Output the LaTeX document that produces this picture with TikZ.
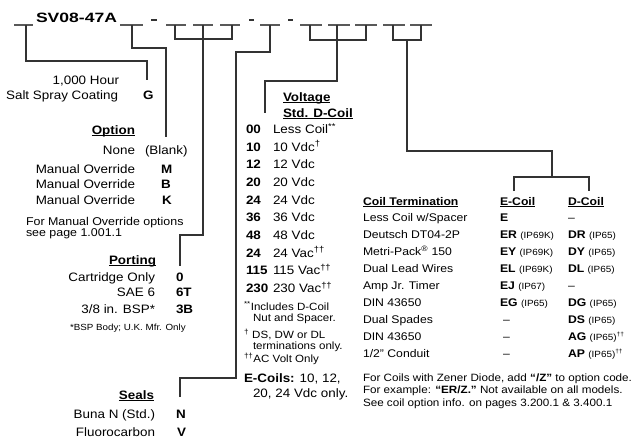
\documentclass[tikz,border=0pt]{standalone}
\usepackage{fontspec}
\setmainfont{Liberation Sans}[FakeStretch=1.1]
\newfontfamily\ttlfont{Liberation Sans}[FakeStretch=1.3]
\newcommand\fL{\fontsize{12.2}{13}\selectfont}
\newcommand\fR{\fontsize{11.1}{12}\selectfont}
\newcommand\fN{\fontsize{10.5}{11}\selectfont}
\newcommand\fS{\fontsize{8.9}{10}\selectfont}
\newcommand\fF{\fontsize{10.6}{11}\selectfont}
\newcommand\fM{\fontsize{11.3}{12}\selectfont}
\newcommand\fIP{\fontsize{9}{10}\selectfont}
\newcommand\myul[1]{\setbox0\hbox{#1}\rlap{\rule[-1.8pt]{\wd0}{0.8pt}}\box0}
\newcommand\ip[1]{{\fIP #1}}
\begin{document}
\begin{tikzpicture}[x=1pt,y=-1pt,
 every node/.style={inner sep=0pt,outer sep=0pt,text=black},
 le/.style={anchor=base east,font=\fL},
 lw/.style={anchor=base west,font=\fL},
 lb/.style={anchor=base west,font=\fL\bfseries},
 rw/.style={anchor=base west,font=\fR},
 nw/.style={anchor=base west,font=\fN},
 bline/.style={draw=black!80,line width=1.2pt},
 uline/.style={draw=black!65,line width=1.2pt},
 dashmark/.style={draw=black!80,line width=1.8pt}]
\fill[white] (0,0) rectangle (637,444);
\useasboundingbox (0,0) rectangle (637,444);

% ---------- title line ----------
\node[anchor=base west,font=\ttlfont\fontsize{13.5}{15}\selectfont\bfseries] (title) at (36,22.5) {SV08-47A};
\foreach \a/\b in {14/33,120/143,166/186,193/213,220/240,260/280,300/322,328/350,355/377,383/405,410/432}
  \draw[uline] (\a,25) -- (\b,25);
\foreach \a/\b in {151/157,249/254,288/293}
  \draw[dashmark] (\a,20) -- (\b,20);

% ---------- left column ----------
\node[le] (hour) at (119,84.4) {1,000 Hour};
\node[le] (salt) at (118,99.4) {Salt Spray Coating};
\node[lb] (G) at (143,99.4) {G};

\node[le] (optH) at (135,134.4) {\myul{\textbf{Option}}};
\node[le] (none) at (135,154.4) {None};
\node[lw] (blank) at (145,154.4) {(Blank)};
\node[le] (mo1) at (135,173.4) {Manual Override};
\node[lb] (M) at (161,173.4) {M};
\node[le] (mo2) at (135,188.9) {Manual Override};
\node[lb] (B) at (161,188.9) {B};
\node[le] (mo3) at (135,204.4) {Manual Override};
\node[lb] (K) at (162,204.4) {K};
\node[anchor=base west,font=\fM] (fm1) at (26,225) {For Manual Override options};
\node[anchor=base west,font=\fM] (fm2) at (26,236.5) {see page 1.001.1};

\node[le] (portH) at (156,264.4) {\myul{\textbf{Porting}}};
\node[le] (cart) at (155,281.4) {Cartridge Only};
\node[lb] (p0) at (176,281.4) {0};
\node[le] (sae) at (155,296.9) {SAE 6};
\node[lb] (p6T) at (176,296.9) {6T};
\node[le] (bsp) at (155,313.4) {3/8 in. BSP*};
\node[lb] (p3B) at (176,313.4) {3B};
\node[anchor=base west,font=\fS] (bspn) at (70,330.2) {*BSP Body; U.K. Mfr. Only};

\node[le] (sealH) at (154,399.4) {\myul{\textbf{Seals}}};
\node[le] (buna) at (155,418.4) {Buna N (Std.)};
\node[lb] (sN) at (176,418.4) {N};
\node[le] (fluo) at (155,436.4) {Fluorocarbon};
\node[lb] (sV) at (177,436.4) {V};

% ---------- voltage column ----------
\node[lw] (voltH) at (283,101.4) {\myul{\textbf{Voltage}}};
\node[lw] (stdH) at (283,117.4) {\myul{\textbf{Std. D-Coil}}};
\foreach \c/\d [count=\i from 0] in {00/{Less Coil\textsuperscript{**}},10/{10 Vdc\textsuperscript{†}},12/{12 Vdc},20/{20 Vdc},24/{24 Vdc},36/{36 Vdc},48/{48 Vdc},24/{24 Vac\textsuperscript{††}},115/{115 Vac\textsuperscript{††}},230/{230 Vac\textsuperscript{††}}}{
  \node[lb] (vc\i) at (246,{133.4+17.67*\i}) {\c};
  \node[lw] (vd\i) at (273,{133.4+17.67*\i}) {\d};
}
\node[nw] (n1) at (244,310.8) {\textsuperscript{**}Includes D-Coil};
\node[nw] (n2) at (253,321.3) {Nut and Spacer.};
\node[nw] (n3) at (244,338.8) {\textsuperscript{†} DS, DW or DL};
\node[nw] (n4) at (253,349.8) {terminations only.};
\node[nw] (n5) at (244,362.8) {\textsuperscript{††}AC Volt Only};
\node[lw] (n6) at (244,382.4) {\textbf{E-Coils:} 10, 12,};
\node[lw] (n7) at (253,397.4) {20, 24 Vdc only.};

% ---------- coil termination table ----------
\node[rw] (ctH) at (363,205) {\myul{\textbf{Coil Termination}}};
\node[rw] (ecH) at (500,205) {\myul{\textbf{E-Coil}}};
\node[rw] (dcH) at (568,205) {\myul{\textbf{D-Coil}}};

\node[rw] (c1) at (363,221.9) {Less Coil w/Spacer};
\node[rw] (e1) at (500,221.9) {\textbf{E}};
\node[rw] (d1) at (568,221.9) {–};
\node[rw] (c2) at (363,238.8) {Deutsch DT04-2P};
\node[rw] (e2) at (500,238.8) {\textbf{ER} \ip{(IP69K)}};
\node[rw] (d2) at (568,238.8) {\textbf{DR} \ip{(IP65)}};
\node[rw] (c3) at (363,255.7) {Metri-Pack\textsuperscript{®} 150};
\node[rw] (e3) at (500,255.7) {\textbf{EY} \ip{(IP69K)}};
\node[rw] (d3) at (568,255.7) {\textbf{DY} \ip{(IP65)}};
\node[rw] (c4) at (363,272.6) {Dual Lead Wires};
\node[rw] (e4) at (500,272.6) {\textbf{EL} \ip{(IP69K)}};
\node[rw] (d4) at (568,272.6) {\textbf{DL} \ip{(IP65)}};
\node[rw] (c5) at (363,289.5) {Amp Jr. Timer};
\node[rw] (e5) at (500,289.5) {\textbf{EJ} \ip{(IP67)}};
\node[rw] (d5) at (568,289.5) {–};
\node[rw] (c6) at (363,306.4) {DIN 43650};
\node[rw] (e6) at (500,306.4) {\textbf{EG} \ip{(IP65)}};
\node[rw] (d6) at (568,306.4) {\textbf{DG} \ip{(IP65)}};
\node[rw] (c7) at (363,323.3) {Dual Spades};
\node[rw] (e7) at (503,323.3) {–};
\node[rw] (d7) at (568,323.3) {\textbf{DS} \ip{(IP65)}};
\node[rw] (c8) at (363,340.2) {DIN 43650};
\node[rw] (e8) at (503,340.2) {–};
\node[rw] (d8) at (568,340.2) {\textbf{AG} \ip{(IP65)\textsuperscript{††}}};
\node[rw] (c9) at (363,357.1) {1/2" Conduit};
\node[rw] (e9) at (503,357.1) {–};
\node[rw] (d9) at (568,357.1) {\textbf{AP} \ip{(IP65)\textsuperscript{††}}};

\node[anchor=base west,font=\fF] (f1) at (363,381) {For Coils with Zener Diode, add \textbf{“/Z”} to option code.};
\node[anchor=base west,font=\fF] (f2) at (363,393.5) {For example: \textbf{“ER/Z.”} Not available on all models.};
\node[anchor=base west,font=\fF] (f3) at (363,406) {See coil option info. on pages 3.200.1 \& 3.400.1};

% ---------- brackets ----------
\coordinate (s1) at (26,25);   \coordinate (t1) at (147,80);
\draw[bline] (s1) -- (26,61) -- (147,61) -- (t1);
\coordinate (s2) at (132,25);  \coordinate (t2) at (166,137);
\draw[bline] (s2) -- (132,48) -- (166,48) -- (t2);
\coordinate (s3) at (203,25);  \coordinate (t3) at (180,266);
\draw[bline] (175,25) -- (175,39) -- (232,39) -- (232,25);
\draw[bline] (s3) -- (203,235) -- (180,235) -- (t3);
\coordinate (s4) at (270,25);  \coordinate (t4) at (180,397);
\draw[bline] (s4) -- (270,52) -- (236,52) -- (236,378) -- (180,378) -- (t4);
\coordinate (s5) at (337,25);  \coordinate (t5) at (265,113);
\draw[bline] (310,25) -- (310,40) -- (366,40) -- (366,25);
\draw[bline] (s5) -- (337,81) -- (265,81) -- (t5);
\coordinate (s6) at (407,40);  \coordinate (t6e) at (514,191); \coordinate (t6d) at (589,191);
\draw[bline] (393,25) -- (393,40) -- (421,40) -- (421,25);
\draw[bline] (s6) -- (407,151) -- (552,151) -- (552,177);
\draw[bline] (t6e) -- (514,177) -- (589,177) -- (t6d);
\end{tikzpicture}
\end{document}
